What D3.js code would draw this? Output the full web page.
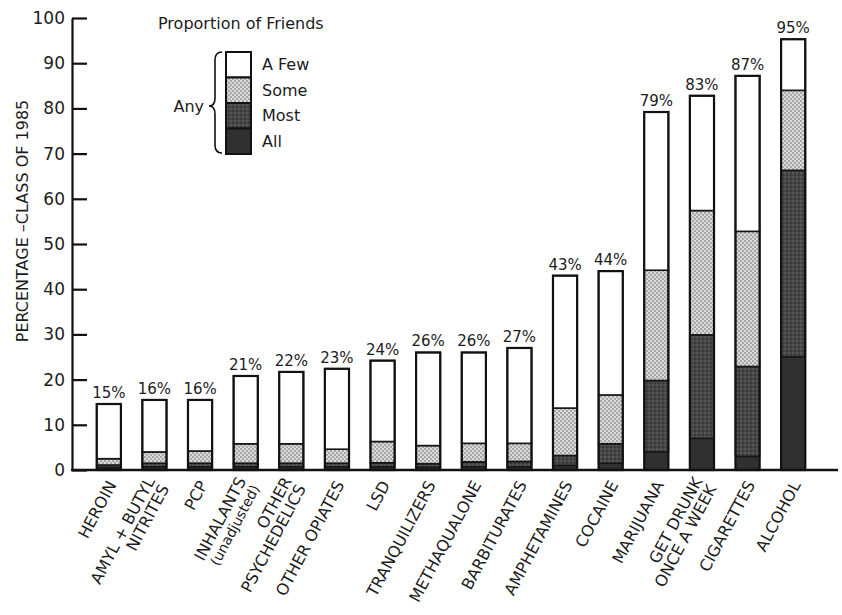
<!DOCTYPE html>
<html>
<head>
<meta charset="utf-8">
<script src="https://cdn.jsdelivr.net/npm/d3@7"></script>
<style>
  body { margin: 0; background: #fff; }
  svg text { font-family: "DejaVu Sans", sans-serif; fill: #1c1c1c; }
</style>
</head>
<body>
<div id="chart"></div>
<script>
// Friends' use of drugs, class of 1985
const categories = [
    ['HEROIN'], ['AMYL + BUTYL', 'NITRITES'], ['PCP'], ['INHALANTS', '(unadjusted)'],
    ['OTHER', 'PSYCHEDELICS'], ['OTHER OPIATES'], ['LSD'], ['TRANQUILIZERS'],
    ['METHAQUALONE'], ['BARBITURATES'], ['AMPHETAMINES'], ['COCAINE'],
    ['MARIJUANA'], ['GET DRUNK', 'ONCE A WEEK'], ['CIGARETTES'], ['ALCOHOL']
];
const allFriends  = [0.5, 0.7, 0.7, 0.7, 0.7, 0.7, 0.7, 0.6, 0.7, 0.7, 1.0, 1.5, 4.0, 7.0, 3.0, 25.0];
const mostFriends = [0.6, 0.8, 0.8, 0.8, 0.8, 0.8, 0.9, 0.8, 1.1, 1.2, 2.2, 4.3, 15.8, 22.9, 19.9, 41.3];
const someFriends = [1.4, 2.5, 2.7, 4.3, 4.3, 3.1, 4.7, 4.0, 4.1, 4.0, 10.5, 10.8, 24.4, 27.5, 29.9, 17.7];
const fewFriends  = [12.1, 11.5, 11.3, 15.0, 15.9, 17.8, 17.9, 20.6, 20.1, 21.1, 29.3, 27.4, 35.0, 25.4, 34.4, 11.3];
const anyLabels = ['15%', '16%', '16%', '21%', '22%', '23%', '24%', '26%', '26%', '27%', '43%', '44%', '79%', '83%', '87%', '95%'];
const yTicks = [0, 10, 20, 30, 40, 50, 60, 70, 80, 90, 100];
const legendLabels = ['A Few', 'Some', 'Most', 'All'];

const W = 842, H = 615;
const svg = d3.select('#chart').append('svg')
    .attr('width', W)
    .attr('height', H);

// Textures for the shaded segments
const defs = svg.append('defs');
const someP = defs.append('pattern').attr('id', 'pat-some')
    .attr('width', 4).attr('height', 4).attr('patternUnits', 'userSpaceOnUse');
someP.append('rect').attr('width', 4).attr('height', 4).attr('fill', '#dadada');
someP.append('circle').attr('cx', 1).attr('cy', 1).attr('r', 0.9).attr('fill', '#909090');
someP.append('circle').attr('cx', 3).attr('cy', 3).attr('r', 0.9).attr('fill', '#909090');

const mostP = defs.append('pattern').attr('id', 'pat-most')
    .attr('width', 4).attr('height', 4).attr('patternUnits', 'userSpaceOnUse');
mostP.append('rect').attr('width', 4).attr('height', 4).attr('fill', '#474747');
mostP.append('circle').attr('cx', 1).attr('cy', 1).attr('r', 0.9).attr('fill', '#5c5c5c');
mostP.append('circle').attr('cx', 3).attr('cy', 3).attr('r', 0.9).attr('fill', '#333');

const fills = { all: '#303030', most: 'url(#pat-most)', some: 'url(#pat-some)', few: '#ffffff' };

const keys = categories.map(c => c.join(' '));

// Scales
const x = d3.scaleBand()
    .domain(keys)
    .range([86, 816])
    .paddingInner(0.47)
    .paddingOuter(0.235);

const y = d3.scaleLinear()
    .domain([0, 100])
    .range([470, 18]);

// Stack data
const rows = keys.map((k, i) => ({
    key: k, all: allFriends[i], most: mostFriends[i], some: someFriends[i], few: fewFriends[i]
}));
const stacked = d3.stack().keys(['all', 'most', 'some', 'few'])(rows);

// Bars
stacked.forEach(layer => {
    svg.append('g')
        .attr('class', 'layer-' + layer.key)
        .selectAll('rect')
        .data(layer)
        .enter()
        .append('rect')
        .attr('x', d => x(d.data.key))
        .attr('y', d => y(d[1]))
        .attr('width', x.bandwidth())
        .attr('height', d => y(d[0]) - y(d[1]))
        .attr('fill', fills[layer.key])
        .attr('stroke', layer.key === 'all' ? 'none' : '#151515')
        .attr('stroke-width', 1.6);
});

// Outer outline per bar
const topLayer = stacked[stacked.length - 1];
svg.append('g')
    .selectAll('rect')
    .data(topLayer)
    .enter()
    .append('rect')
    .attr('x', d => x(d.data.key))
    .attr('y', d => y(d[1]))
    .attr('width', x.bandwidth())
    .attr('height', d => y(0) - y(d[1]))
    .attr('fill', 'none')
    .attr('stroke', '#111')
    .attr('stroke-width', 2.2);

// Percent labels
svg.append('g')
    .selectAll('text')
    .data(topLayer)
    .enter()
    .append('text')
    .attr('x', d => x(d.data.key) + x.bandwidth() / 2)
    .attr('y', d => y(d[1]) - 6)
    .attr('text-anchor', 'middle')
    .style('font-size', '15px')
    .text((d, i) => anyLabels[i]);

// Y axis (ticks point inward)
const yAxis = svg.append('g')
    .attr('transform', 'translate(72,0)')
    .call(d3.axisLeft(y)
        .tickValues(yTicks)
        .tickSizeInner(-15)
        .tickSizeOuter(0)
        .tickPadding(7));
yAxis.select('.domain').attr('stroke', '#111').attr('stroke-width', 2.2);
yAxis.selectAll('.tick line').attr('stroke', '#111').attr('stroke-width', 2.2);
yAxis.selectAll('.tick text')
    .style('font-family', '"DejaVu Sans", sans-serif')
    .style('font-size', '17px')
    .attr('fill', '#1c1c1c');

// Baseline
svg.append('line')
    .attr('x1', 71).attr('x2', 838)
    .attr('y1', y(0)).attr('y2', y(0))
    .attr('stroke', '#111')
    .attr('stroke-width', 2.4);

// Y axis title
svg.append('text')
    .attr('transform', `translate(22,${(y(0) + y(100)) / 2 - 23}) rotate(-90)`)
    .attr('text-anchor', 'middle')
    .attr('dy', '0.35em')
    .style('font-size', '16px')
    .text('PERCENTAGE \u2013CLASS OF 1985');

// Category labels, rotated
const catG = svg.append('g')
    .selectAll('g')
    .data(categories)
    .enter()
    .append('g')
    .attr('transform', (d, i) => `translate(${x(keys[i]) + x.bandwidth() / 2 + 3},482) rotate(-62)`);

catG.each(function(lines) {
    const g = d3.select(this);
    lines.forEach((ln, k) => {
        g.append('text')
            .attr('text-anchor', 'end')
            .attr('x', 0)
            .attr('y', (k - (lines.length - 1) / 2) * 16)
            .attr('dy', '0.35em')
            .style('font-size', ln.startsWith('(') ? '14px' : '16px')
            .text(ln);
    });
});

// Legend
svg.append('text')
    .attr('x', 158)
    .attr('y', 29)
    .style('font-size', '16px')
    .text('Proportion of Friends');

const legendKeys = ['few', 'some', 'most', 'all'];
const legend = svg.append('g').attr('transform', 'translate(226,52)');
legendKeys.forEach((k, i) => {
    legend.append('rect')
        .attr('x', 0)
        .attr('y', i * 25.5)
        .attr('width', 25)
        .attr('height', 25.5)
        .attr('fill', fills[k])
        .attr('stroke', '#111')
        .attr('stroke-width', 2);
    legend.append('text')
        .attr('x', 36)
        .attr('y', i * 25.5 + 12.75)
        .attr('dy', '0.35em')
        .style('font-size', '16px')
        .text(legendLabels[i]);
});

// Brace for "Any"
svg.append('path')
    .attr('d', 'M222,52 Q215,52 215,60 L215,98 Q215,106 209,106 Q215,106 215,114 L215,145 Q215,153 222,153')
    .attr('fill', 'none')
    .attr('stroke', '#111')
    .attr('stroke-width', 1.6);

svg.append('text')
    .attr('x', 204)
    .attr('y', 106)
    .attr('dy', '0.35em')
    .attr('text-anchor', 'end')
    .style('font-size', '16px')
    .text('Any');
</script>
</body>
</html>
